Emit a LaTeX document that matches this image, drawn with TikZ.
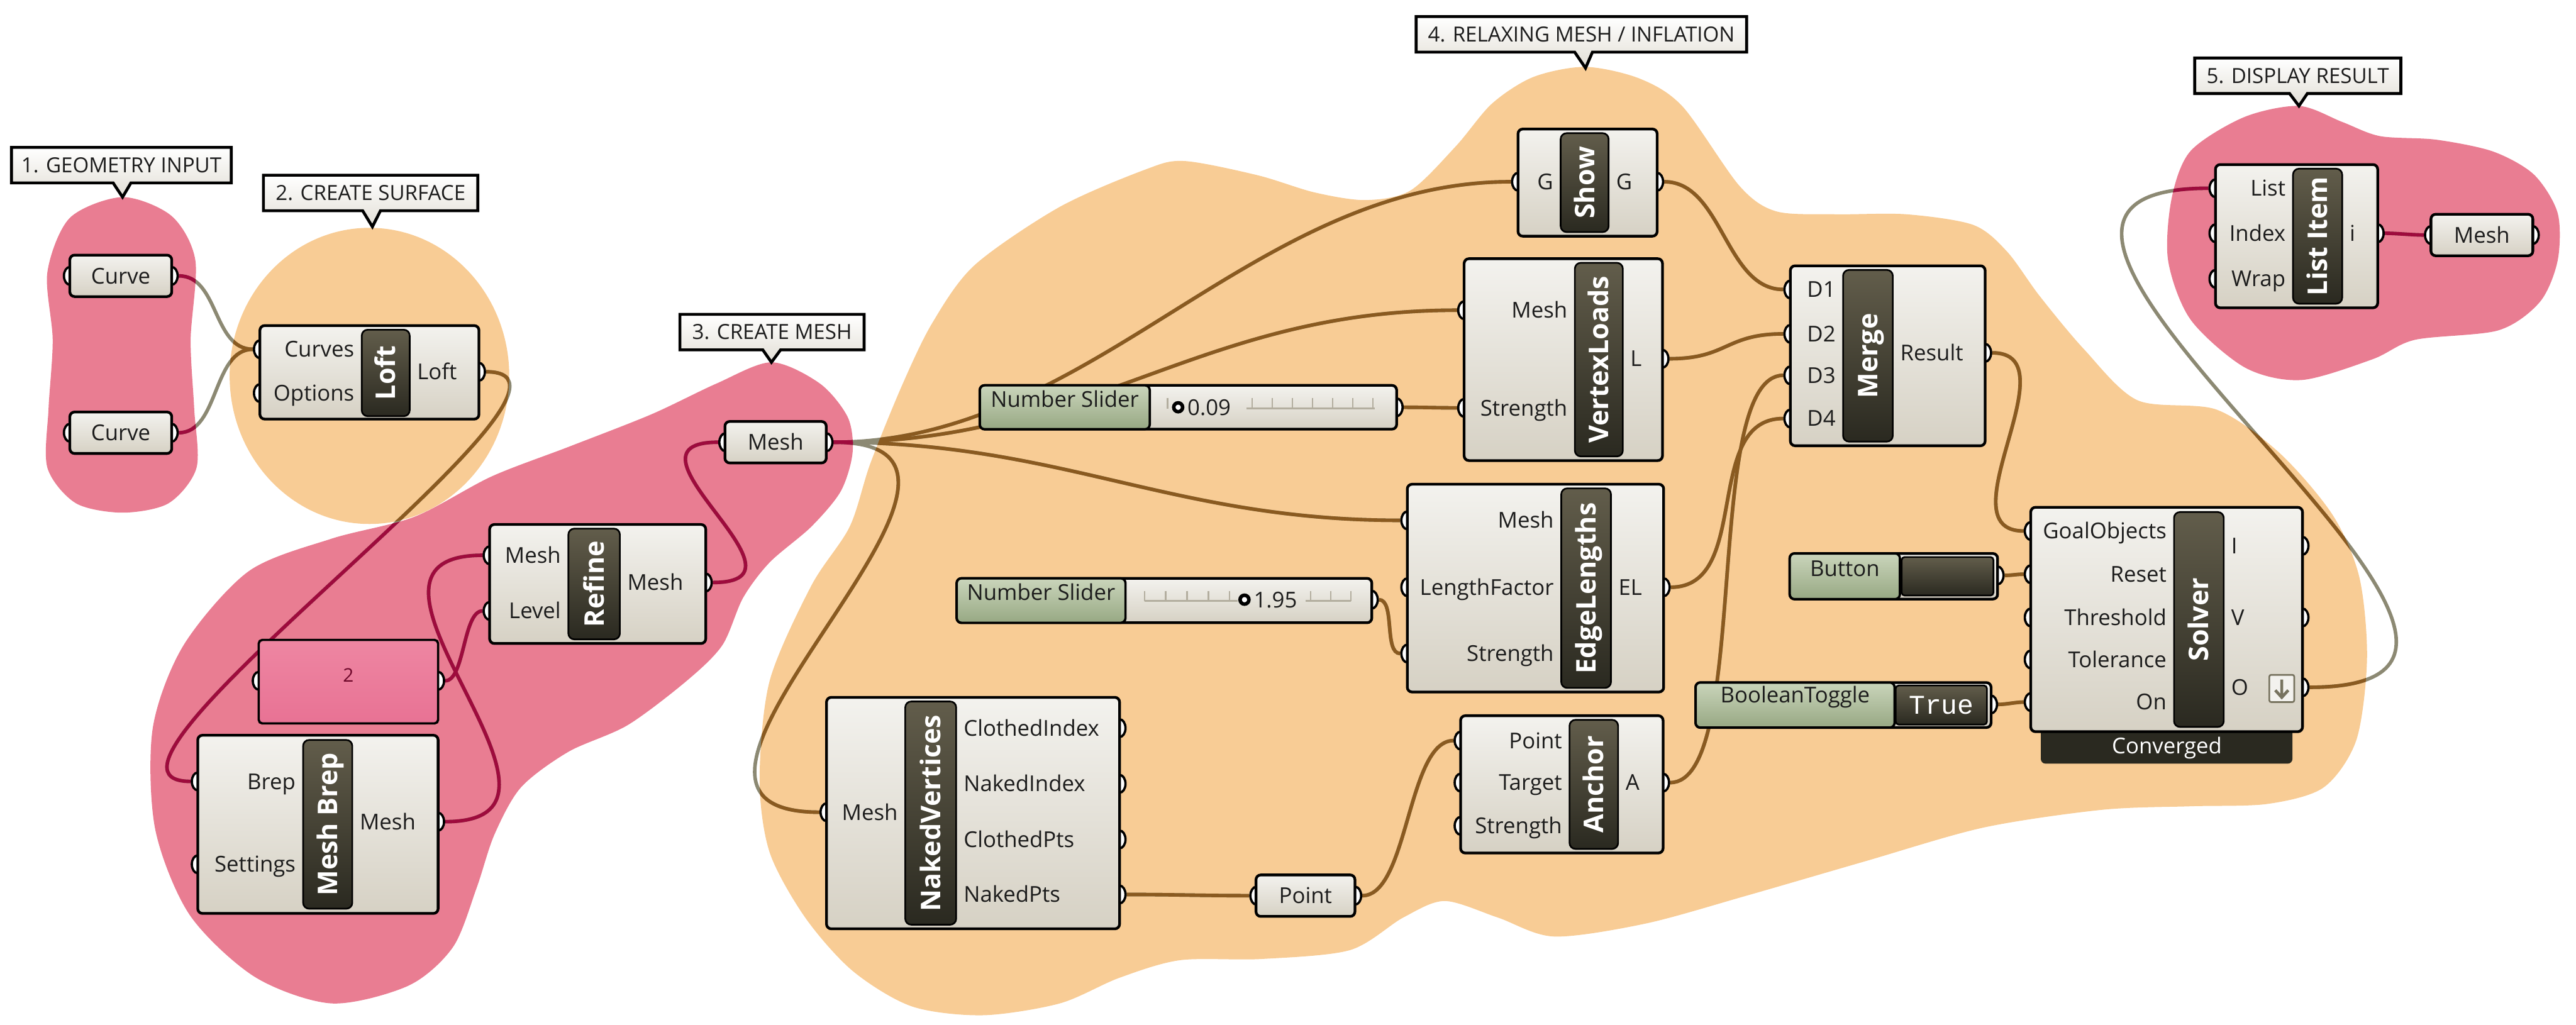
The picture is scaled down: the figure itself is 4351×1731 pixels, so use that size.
\documentclass[tikz,border=0pt]{standalone}
\usepackage{fontspec}
\setmainfont{Open Sans}
\newfontfamily\monofont{Liberation Mono}
\usetikzlibrary{fit,shapes.geometric,shapes.callouts}

\pgfdeclarelayer{blobs}
\pgfdeclarelayer{wires}
\pgfdeclarelayer{ports}
\pgfsetlayers{blobs,wires,ports,main}

\definecolor{gpink}{HTML}{E97D92}
\definecolor{gorange}{HTML}{F8CC95}
\definecolor{wgrey}{HTML}{8C8973}
\definecolor{wred}{HTML}{9E0B3D}
\definecolor{wbrown}{HTML}{8A5A20}
\definecolor{bodytop}{HTML}{F3F2EE}
\definecolor{bodybot}{HTML}{D6D1C4}
\definecolor{bartop}{HTML}{625D4B}
\definecolor{barbot}{HTML}{2A2920}
\definecolor{greentop}{HTML}{CAD5BB}
\definecolor{greenbot}{HTML}{97A883}
\definecolor{paneltop}{HTML}{EE86A2}
\definecolor{panelbot}{HTML}{E87294}
\definecolor{labeltext}{HTML}{1C1C1C}
\definecolor{tickgrey}{HTML}{B3AE9F}
\definecolor{icongrey}{HTML}{77735F}

% grupy (tlo)
\newcommand{\pinkshape}[1]{%
  \path[#1]
    plot[smooth cycle] coordinates {(207,333) (290,365) (330,440) (322,574) (328,690) (332,790) (285,850) (207,866) (128,850) (80,790) (82,690) (89,574) (80,460) (118,368)}
    plot[smooth cycle] coordinates {(1303,612) (1385,648) (1432,705) (1440,765) (1420,830) (1370,890) (1300,950) (1255,1010) (1220,1090) (1160,1150) (1060,1225) (960,1270) (880,1330) (835,1410) (805,1500) (765,1600) (690,1665) (560,1695) (430,1650) (320,1545) (262,1400) (258,1230) (310,1090) (420,965) (560,910) (700,873) (830,805) (960,755) (1100,700) (1210,648)}
    plot[smooth cycle] coordinates {(3883,179) (3956,206) (4020,230) (4115,236) (4211,256) (4280,295) (4320,360) (4320,440) (4290,510) (4220,558) (4079,574) (4007,607) (3887,642) (3792,621) (3700,540) (3662,440) (3668,335) (3700,255) (3790,198)};}
\newcommand{\orangeshape}[1]{%
  \path[#1]
    (624,635) ellipse[x radius=2.36cm, y radius=2.5cm]
    plot[smooth cycle] coordinates {(1283,1317) (1300,1150) (1370,990) (1435,890) (1470,783) (1524,650) (1575,545) (1646,448) (1789,350) (1933,287) (2000,272) (2124,296) (2220,325) (2306,338) (2382,322) (2459,247) (2520,175) (2590,130) (2678,113) (2770,133) (2842,180) (2938,314) (3000,357) (3100,362) (3220,362) (3333,380) (3390,425) (3445,500) (3520,590) (3610,676) (3744,692) (3850,765) (3940,870) (3985,975) (3998,1112) (3980,1250) (3925,1330) (3830,1358) (3700,1362) (3550,1368) (3350,1398) (3150,1455) (2950,1513) (2780,1560) (2625,1582) (2530,1550) (2440,1522) (2370,1550) (2280,1605) (2130,1620) (1993,1622) (1890,1652) (1790,1695) (1660,1715) (1540,1700) (1440,1640) (1360,1550) (1300,1440)};}

% polaczenia
\newcommand{\allwires}[1]{%
  \draw[wire,#1] (curve1-o) .. controls +(80,0) and +(-80,0) .. (loft-i1);
  \draw[wire,#1] (curve2-o) .. controls +(80,0) and +(-80,0) .. (loft-i1);
  \draw[wire,#1] (loft-o) .. controls +(260,0) and +(-260,0) .. (brep-i1);
  \draw[wire,#1] (brep-o) .. controls +(300,0) and +(-300,0) .. (ref-i1);
  \draw[wire,#1] (num-o) .. controls +(45,0) and +(-45,0) .. (ref-i2);
  \draw[wire,#1] (ref-o) .. controls +(200,0) and +(-200,0) .. (mesh-i);
  \draw[wire,#1] (mesh-o) .. controls +(450,0) and +(-450,0) .. (show-i);
  \draw[wire,#1] (mesh-o) .. controls +(450,0) and +(-450,0) .. (vl-i1);
  \draw[wire,#1] (mesh-o) .. controls +(400,0) and +(-400,0) .. (el-i1);
  \draw[wire,#1] (mesh-o) .. controls +(400,0) and +(-400,0) .. (nv-i);
  \draw[wire,#1] (sl1-o) .. controls +(50,0) and +(-50,0) .. (vl-i2);
  \draw[wire,#1] (show-o) .. controls +(110,0) and +(-110,0) .. (mg-i1);
  \draw[wire,#1] (vl-o) .. controls +(110,0) and +(-110,0) .. (mg-i2);
  \draw[wire,#1] (an-o) .. controls +(150,0) and +(-150,0) .. (mg-i3);
  \draw[wire,#1] (el-o) .. controls +(150,0) and +(-150,0) .. (mg-i4);
  \draw[wire,#1] (sl2-o) .. controls +(40,0) and +(-40,0) .. (el-i3);
  \draw[wire,#1] (nv-o4) .. controls +(90,0) and +(-90,0) .. (pt-i);
  \draw[wire,#1] (pt-o) .. controls +(90,0) and +(-90,0) .. (an-i1);
  \draw[wire,#1] (mg-o) .. controls +(150,0) and +(-150,0) .. (sv-i1);
  \draw[wire,#1] (bt-o) .. controls +(25,0) and +(-25,0) .. (sv-i2);
  \draw[wire,#1] (tg-o) .. controls +(25,0) and +(-25,0) .. (sv-i5);
  \draw[wire,#1] (sv-o3) .. controls +(580,0) and +(-580,0) .. (li-i1);
  \draw[wire,#1] (li-o) .. controls +(30,0) and +(-30,0) .. (out-i);
}

\begin{document}
\begin{tikzpicture}[x=0.01cm, y=-0.01cm,
    every node/.style={font=\fontsize{10.5}{12}\selectfont, text=labeltext},
    lbl/.style={text height=7.5pt, text depth=0pt},
    comp/.style={draw=black, line width=1.3pt, rounded corners=0.08cm, top color=bodytop, bottom color=bodybot, inner sep=0pt},
    param/.style={comp, lbl, minimum height=0.7cm},
    bar/.style={draw=black, line width=0.8pt, rounded corners=0.1cm, top color=bartop, bottom color=barbot, inner sep=0pt},
    bartext/.style={rotate=90, text=white, text height=9.3pt, text depth=0pt, font=\fontsize{13}{14}\selectfont\bfseries},
    greenpart/.style={draw=black, line width=1.1pt, rounded corners=0.08cm, top color=greentop, bottom color=greenbot, inner sep=0pt},
    panel/.style={draw=black, line width=1.1pt, rounded corners=0.06cm, top color=paneltop, bottom color=panelbot, inner sep=0pt, text=wred!70!black, font=\fontsize{9}{10}\selectfont},
    inl/.style={lbl, anchor=east, inner sep=0pt},
    outl/.style={lbl, anchor=west, inner sep=0pt},
    port/.style={ellipse, draw=black, fill=white, line width=1.1pt, minimum width=0.2cm, minimum height=0.3cm, inner sep=0pt},
    wire/.style={line width=1.7pt},
    tick/.style={draw=tickgrey, line width=0.7pt},
    knob/.style={circle, draw=black, fill=white, line width=1.7pt, minimum size=0.15cm, inner sep=0pt},
    title/.style={rectangle callout, draw=black, line width=1.4pt, top color=white, bottom color=bodybot!70!white, minimum height=0.6cm, inner sep=0pt, callout pointer width=0.3cm, font=\fontsize{10}{12}\selectfont}]

  \useasboundingbox (0,0) rectangle (4351,1731);

  % 1. geometria
  \node[param, minimum width=1.72cm] (curve1) at (204,466) {Curve};
  \node[param, minimum width=1.72cm] (curve2) at (204,731) {Curve};

  % 2. powierzchnia
  \node[comp, fit={(439,550) (809,708)}] (loft) {};
  \node[bar, fit={(611,557) (692,703)}] (loftbar) {};
  \node[bartext] (loftname) at (loftbar) {Loft};
  \node[inl] (loftl1) at (599,590) {Curves};
  \node[inl] (loftl2) at (599,664) {Options};
  \node[outl] (loftl3) at (704,628) {Loft};

  % 3. siatka
  \node[comp, fit={(334,1242) (740,1543)}] (brep) {};
  \node[bar, fit={(512,1250) (595,1535)}] (brepbar) {};
  \node[bartext] (brepname) at (brepbar) {Mesh Brep};
  \node[inl] (brepl1) at (500,1320) {Brep};
  \node[inl] (brepl2) at (500,1460) {Settings};
  \node[outl] (brepl3) at (607,1388) {Mesh};

  \node[panel, fit={(437,1081) (740,1222)}] (num) {2};

  \node[comp, fit={(827,886) (1192,1087)}] (ref) {};
  \node[bar, fit={(960,893) (1047,1080)}] (refbar) {};
  \node[bartext] (refname) at (refbar) {Refine};
  \node[inl] (refl1) at (948,938) {Mesh};
  \node[inl] (refl2) at (948,1032) {Level};
  \node[outl] (refl3) at (1059,984) {Mesh};

  \node[param, minimum width=1.71cm] (mesh) at (1310,747) {Mesh};

  % 4. relaksacja
  \node[comp, fit={(1655,651) (2359,725)}] (sl1) {};
  \node[greenpart, lbl, fit={(1655,651) (1942,725)}] (sl1name) {Number Slider};
  \draw[tick] (2105,690) -- (2322,690) (1972,672) -- (1972,690)
    (2115,672) -- (2115,690) (2149,672) -- (2149,690) (2183,672) -- (2183,690)
    (2217,672) -- (2217,690) (2251,672) -- (2251,690) (2285,672) -- (2285,690)
    (2319,672) -- (2319,690);
  \node[knob] (sl1knob) at (1990,688) {};
  \node[outl] (sl1val) at (2005,688) {0.09};

  \node[comp, fit={(2564,218) (2799,399)}] (show) {};
  \node[bar, fit={(2636,225) (2717,392)}] (showbar) {};
  \node[bartext] (showname) at (showbar) {Show};
  \node[inl] (showl1) at (2624,307) {G};
  \node[outl] (showl2) at (2729,307) {G};

  \node[comp, fit={(2473,437) (2808,778)}] (vl) {};
  \node[bar, fit={(2660,444) (2741,771)}] (vlbar) {};
  \node[bartext] (vlname) at (vlbar) {VertexLoads};
  \node[inl] (vll1) at (2648,524) {Mesh};
  \node[inl] (vll2) at (2648,689) {Strength};
  \node[outl] (vll3) at (2753,606) {L};

  \node[comp, fit={(3024,449) (3353,753)}] (mg) {};
  \node[bar, fit={(3113,456) (3197,746)}] (mgbar) {};
  \node[bartext] (mgname) at (mgbar) {Merge};
  \node[inl] (mgl1) at (3101,489) {D1};
  \node[inl] (mgl2) at (3101,564) {D2};
  \node[inl] (mgl3) at (3101,634) {D3};
  \node[inl] (mgl4) at (3101,707) {D4};
  \node[outl] (mgl5) at (3209,596) {Result};

  \node[comp, fit={(2377,818) (2810,1169)}] (el) {};
  \node[bar, fit={(2637,825) (2721,1162)}] (elbar) {};
  \node[bartext] (elname) at (elbar) {EdgeLengths};
  \node[inl] (ell1) at (2625,879) {Mesh};
  \node[inl] (ell2) at (2625,992) {LengthFactor};
  \node[inl] (ell3) at (2625,1104) {Strength};
  \node[outl] (ell4) at (2733,992) {EL};

  \node[comp, fit={(1616,977) (2317,1052)}] (sl2) {};
  \node[greenpart, lbl, fit={(1616,977) (1901,1052)}] (sl2name) {Number Slider};
  \draw[tick] (1933,1015) -- (2090,1015) (2205,1015) -- (2282,1015)
    (1933,998) -- (1933,1015) (1969,998) -- (1969,1015) (2005,998) -- (2005,1015)
    (2041,998) -- (2041,1015) (2077,998) -- (2077,1015) (2214,998) -- (2214,1015)
    (2248,998) -- (2248,1015) (2282,998) -- (2282,1015);
  \node[knob] (sl2knob) at (2102,1013) {};
  \node[outl] (sl2val) at (2117,1013) {1.95};

  \node[comp, fit={(2467,1209) (2809,1441)}] (an) {};
  \node[bar, fit={(2651,1216) (2733,1434)}] (anbar) {};
  \node[bartext] (anname) at (anbar) {Anchor};
  \node[inl] (anl1) at (2639,1251) {Point};
  \node[inl] (anl2) at (2639,1322) {Target};
  \node[inl] (anl3) at (2639,1395) {Strength};
  \node[outl] (anl4) at (2745,1322) {A};

  \node[comp, fit={(1396,1178) (1891,1569)}] (nv) {};
  \node[bar, fit={(1529,1185) (1615,1562)}] (nvbar) {};
  \node[bartext] (nvname) at (nvbar) {NakedVertices};
  \node[inl] (nvl0) at (1517,1372) {Mesh};
  \node[outl] (nvl1) at (1627,1230) {ClothedIndex};
  \node[outl] (nvl2) at (1627,1324) {NakedIndex};
  \node[outl] (nvl3) at (1627,1418) {ClothedPts};
  \node[outl] (nvl4) at (1627,1511) {NakedPts};

  \node[param, minimum width=1.67cm] (pt) at (2205,1513) {Point};

  \node[comp, fit={(3023,935) (3374,1012)}] (bt) {};
  \node[greenpart, lbl, fit={(3023,935) (3209,1012)}] (btname) {Button};
  \node[bar, rounded corners=0.05cm, fit={(3212,941) (3367,1006)}] (btkey) {};

  \node[comp, fit={(2864,1153) (3363,1229)}] (tg) {};
  \node[greenpart, lbl, fit={(2864,1153) (3200,1229)}] (tgname) {BooleanToggle};
  \node[bar, rounded corners=0.05cm, fit={(3202,1158) (3356,1224)}] (tgkey) {};
  \node[text=white, font=\monofont\fontsize{13}{14}\selectfont] (tgval) at (tgkey) {True};

  \node[fill=barbot, rounded corners=0.08cm, inner sep=0pt, fit={(3447,1200) (3872,1290)}] (svconv) {};
  \node[text=white] (svconvl) at (3660,1263) {Converged};
  \node[comp, fit={(3430,857) (3889,1236)}] (sv) {};
  \node[bar, fit={(3672,865) (3756,1228)}] (svbar) {};
  \node[bartext] (svname) at (svbar) {Solver};
  \node[inl] (svl1) at (3660,897) {GoalObjects};
  \node[inl] (svl2) at (3660,970) {Reset};
  \node[inl] (svl3) at (3660,1043) {Threshold};
  \node[inl] (svl4) at (3660,1114) {Tolerance};
  \node[inl] (svl5) at (3660,1186) {On};
  \node[outl] (svl6) at (3768,922) {I};
  \node[outl] (svl7) at (3768,1043) {V};
  \node[outl] (svl8) at (3768,1161) {O};
  \node[draw=icongrey, line width=0.8pt, fill=bodytop, rounded corners=0.03cm, inner sep=0pt, fit={(3833,1140) (3875,1186)}] (svicon) {};
  \draw[icongrey, line width=1.4pt] (3854,1148) -- (3854,1178) (3843,1166) -- (3854,1178) -- (3865,1166);

  % 5. wynik
  \node[comp, fit={(3742,278) (4016,520)}] (li) {};
  \node[bar, fit={(3873,285) (3956,513)}] (libar) {};
  \node[bartext] (liname) at (libar) {List Item};
  \node[inl] (lil1) at (3861,318) {List};
  \node[inl] (lil2) at (3861,394) {Index};
  \node[inl] (lil3) at (3861,471) {Wrap};
  \node[outl] (lil4) at (3968,394) {i};

  \node[param, minimum width=1.72cm] (out) at (4192,397) {Mesh};

  % opisy grup
  \node[title, minimum width=3.71cm, callout absolute pointer={(207,333)}] (t1) at (205,279) {1. GEOMETRY INPUT};
  \node[title, minimum width=3.62cm, callout absolute pointer={(629,383)}] (t2) at (626,326) {2. CREATE SURFACE};
  \node[title, minimum width=3.11cm, callout absolute pointer={(1303,612)}] (t3) at (1304,561) {3. CREATE MESH};
  \node[title, minimum width=5.58cm, callout absolute pointer={(2678,115)}] (t4) at (2671,58) {4. RELAXING MESH / INFLATION};
  \node[title, minimum width=3.48cm, callout absolute pointer={(3883,179)}] (t5) at (3881,128) {5. DISPLAY RESULT};

  % wejscia i wyjscia
  \begin{pgfonlayer}{ports}
    \node[port] (curve1-i) at (118,466) {};
    \node[port] (curve1-o) at (290,466) {};
    \node[port] (curve2-i) at (118,731) {};
    \node[port] (curve2-o) at (290,731) {};
    \node[port] (loft-i1) at (439,590) {};
    \node[port] (loft-i2) at (439,664) {};
    \node[port] (loft-o) at (809,628) {};
    \node[port] (brep-i1) at (334,1320) {};
    \node[port] (brep-i2) at (334,1460) {};
    \node[port] (brep-o) at (740,1388) {};
    \node[port] (num-i) at (437,1150) {};
    \node[port] (num-o) at (740,1150) {};
    \node[port] (ref-i1) at (827,938) {};
    \node[port] (ref-i2) at (827,1032) {};
    \node[port] (ref-o) at (1192,984) {};
    \node[port] (mesh-i) at (1225,747) {};
    \node[port] (mesh-o) at (1396,747) {};
    \node[port] (sl1-o) at (2359,688) {};
    \node[port] (show-i) at (2564,307) {};
    \node[port] (show-o) at (2799,307) {};
    \node[port] (vl-i1) at (2473,524) {};
    \node[port] (vl-i2) at (2473,689) {};
    \node[port] (vl-o) at (2808,606) {};
    \node[port] (mg-i1) at (3024,489) {};
    \node[port] (mg-i2) at (3024,564) {};
    \node[port] (mg-i3) at (3024,634) {};
    \node[port] (mg-i4) at (3024,707) {};
    \node[port] (mg-o) at (3353,596) {};
    \node[port] (el-i1) at (2377,879) {};
    \node[port] (el-i2) at (2377,992) {};
    \node[port] (el-i3) at (2377,1104) {};
    \node[port] (el-o) at (2810,992) {};
    \node[port] (sl2-o) at (2317,1013) {};
    \node[port] (an-i1) at (2467,1251) {};
    \node[port] (an-i2) at (2467,1322) {};
    \node[port] (an-i3) at (2467,1395) {};
    \node[port] (an-o) at (2809,1322) {};
    \node[port] (nv-i) at (1396,1372) {};
    \node[port] (nv-o1) at (1891,1230) {};
    \node[port] (nv-o2) at (1891,1324) {};
    \node[port] (nv-o3) at (1891,1418) {};
    \node[port] (nv-o4) at (1891,1511) {};
    \node[port] (pt-i) at (2122,1513) {};
    \node[port] (pt-o) at (2289,1513) {};
    \node[port] (bt-o) at (3374,972) {};
    \node[port] (tg-o) at (3363,1190) {};
    \node[port] (sv-i1) at (3430,897) {};
    \node[port] (sv-i2) at (3430,970) {};
    \node[port] (sv-i3) at (3430,1043) {};
    \node[port] (sv-i4) at (3430,1114) {};
    \node[port] (sv-i5) at (3430,1186) {};
    \node[port] (sv-o1) at (3889,922) {};
    \node[port] (sv-o2) at (3889,1043) {};
    \node[port] (sv-o3) at (3889,1161) {};
    \node[port] (li-i1) at (3742,318) {};
    \node[port] (li-i2) at (3742,394) {};
    \node[port] (li-i3) at (3742,471) {};
    \node[port] (li-o) at (4016,394) {};
    \node[port] (out-i) at (4106,397) {};
    \node[port] (out-o) at (4278,397) {};
  \end{pgfonlayer}

  % polaczenia (kolor zalezny od tla)
  \begin{pgfonlayer}{wires}
    \allwires{wgrey}
    \begin{scope}
      \pinkshape{clip}
      \allwires{wred}
    \end{scope}
    \begin{scope}
      \orangeshape{clip}
      \allwires{wbrown}
    \end{scope}
  \end{pgfonlayer}

  % grupy
  \begin{pgfonlayer}{blobs}
    \pinkshape{fill=gpink}
    \orangeshape{fill=gorange}
  \end{pgfonlayer}
\end{tikzpicture}
\end{document}
